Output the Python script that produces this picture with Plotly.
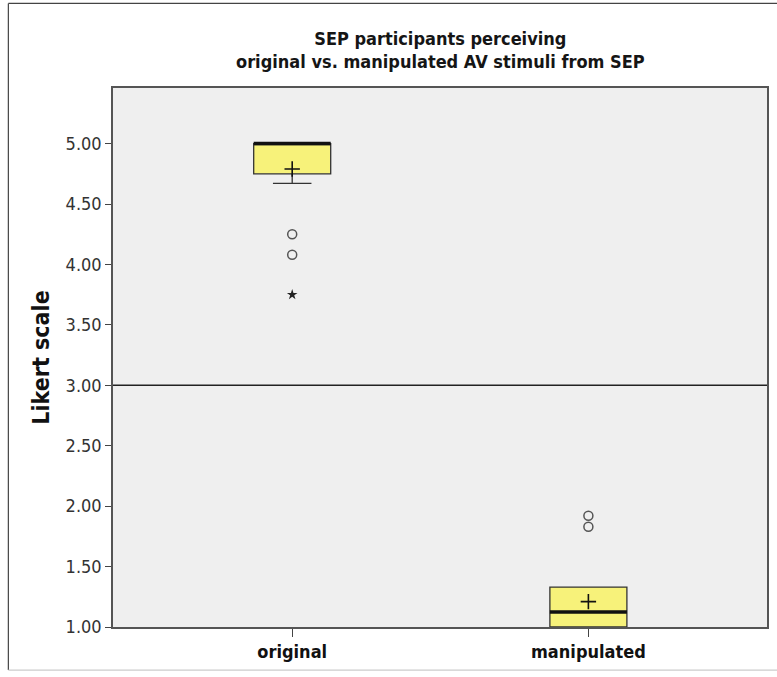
import plotly.graph_objects as go

categories = ["original", "manipulated"]
q1 = [4.75, 1.00]
median = [5.00, 1.125]
q3 = [5.00, 1.33]
lower_whisker = [4.67, 1.00]
upper_whisker = [5.00, 1.33]
means = [4.79, 1.21]
outliers_circle = [[4.25, 4.08], [1.92, 1.83]]
outliers_star = [[3.75], []]

y_ticks = [1.0, 1.5, 2.0, 2.5, 3.0, 3.5, 4.0, 4.5, 5.0]
y_ticklabels = ["1.00", "1.50", "2.00", "2.50", "3.00", "3.50", "4.00", "4.50", "5.00"]
ref_value = 3.0
title_lines = ["SEP participants perceiving", "original vs. manipulated AV stimuli from SEP"]

FONT = "DejaVu Sans Condensed"
box_w = 0.26
xpos = list(range(len(categories)))

fig = go.Figure()

for i, cat in enumerate(categories):
    fig.add_trace(go.Box(
        x=[xpos[i]], q1=[q1[i]], median=[median[i]], q3=[q3[i]],
        lowerfence=[lower_whisker[i]], upperfence=[upper_whisker[i]],
        fillcolor="#f7f27a", line=dict(color="#333333", width=1.3),
        width=box_w, whiskerwidth=0.5, boxpoints=False, showlegend=False,
        hoverinfo="skip", name=cat,
    ))
    # thick median line
    fig.add_trace(go.Scatter(
        x=[xpos[i] - box_w / 2, xpos[i] + box_w / 2], y=[median[i], median[i]],
        mode="lines", line=dict(color="#111111", width=3.5), showlegend=False,
        hoverinfo="skip",
    ))
    # mean marker
    fig.add_trace(go.Scatter(
        x=[xpos[i]], y=[means[i]], mode="markers",
        marker=dict(symbol="cross-thin", size=11, line=dict(color="#111111", width=1.6)),
        showlegend=False, hoverinfo="skip",
    ))
    if outliers_circle[i]:
        fig.add_trace(go.Scatter(
            x=[xpos[i]] * len(outliers_circle[i]), y=outliers_circle[i], mode="markers",
            marker=dict(symbol="circle-open", size=9, color="#555555", line=dict(width=1.5)),
            showlegend=False, hoverinfo="skip",
        ))
    if outliers_star[i]:
        fig.add_trace(go.Scatter(
            x=[xpos[i]] * len(outliers_star[i]), y=outliers_star[i], mode="markers",
            marker=dict(symbol="star", size=8, color="#222222"),
            showlegend=False, hoverinfo="skip",
        ))

# reference line
fig.add_shape(type="line", xref="paper", x0=0, x1=1, yref="y", y0=ref_value, y1=ref_value,
              line=dict(color="#222222", width=1.5))
# outer frame of the image (left, top dark; bottom light)
fig.add_shape(type="line", xref="paper", yref="paper", x0=-0.16, x1=-0.16, y0=-0.08, y1=1.157,
              line=dict(color="#444444", width=1.2))
fig.add_shape(type="line", xref="paper", yref="paper", x0=-0.16, x1=1.1, y0=1.157, y1=1.157,
              line=dict(color="#444444", width=1.2))
fig.add_shape(type="line", xref="paper", yref="paper", x0=-0.16, x1=1.1, y0=-0.08, y1=-0.08,
              line=dict(color="#cccccc", width=1.2))

# two-line title as a single annotation
fig.add_annotation(
    text="<br>".join(title_lines), xref="paper", yref="paper", x=0.5, y=1.0696,
    xanchor="center", yanchor="middle", align="center", showarrow=False,
    font=dict(family=FONT, size=18, color="#151515", weight="bold"),
)

fig.update_layout(
    width=777, height=677,
    margin=dict(l=113, r=8, t=88, b=50),
    paper_bgcolor="white", plot_bgcolor="#efefef",
    xaxis=dict(
        range=[-0.605, 1.603], tickvals=xpos, ticktext=categories,
        showgrid=False, zeroline=False, showline=True, linecolor="#555555", linewidth=1.5,
        mirror=True, ticks="outside", ticklen=8, tickcolor="#444444",
        tickfont=dict(family=FONT, size=18, color="#111111", weight="bold"),
    ),
    yaxis=dict(
        range=[1.0, 5.46], tickvals=y_ticks, ticktext=y_ticklabels,
        showgrid=False, zeroline=False, showline=True, linecolor="#555555", linewidth=1.5,
        mirror=True, ticks="outside", ticklen=6, tickcolor="#444444",
        tickfont=dict(family=FONT, size=18, color="#333333"),
        title=dict(text="Likert scale", font=dict(family=FONT, size=23, color="#111111", weight="bold"),
                   standoff=10),
    ),
)

fig.write_html("out.html")
